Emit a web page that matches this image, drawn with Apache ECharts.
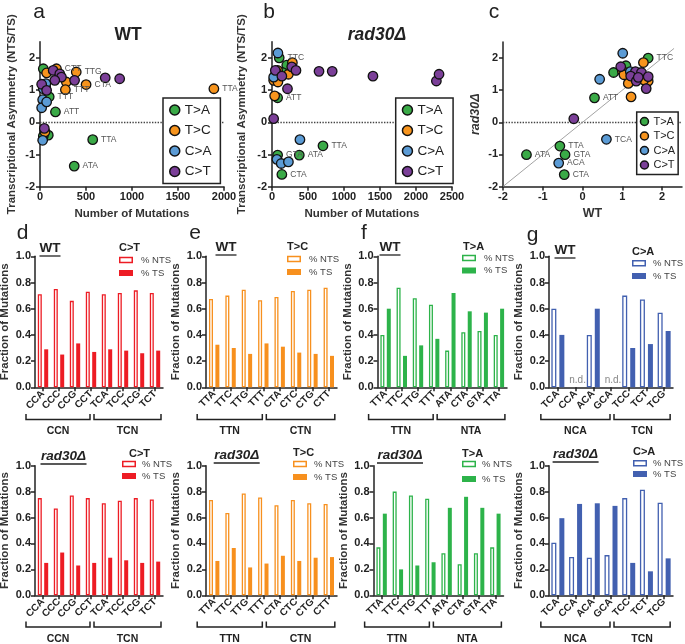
<!DOCTYPE html>
<html><head><meta charset="utf-8">
<script src="https://cdn.jsdelivr.net/npm/echarts@6/dist/echarts.min.js"></script>
<style>html,body{margin:0;padding:0;background:#fff}#c{width:685px;height:644px}</style>
</head><body><div id="c"></div><script>
// ---------- DATA ----------
// scatter: [x, y, optional label]
const asymTicks = [-2, -1, 0, 1, 2];
const mutTicksA = [0, 500, 1000, 1500, 2000];
const mutTicksB = [0, 500, 1000, 1500, 2000, 2500];
const typeNames = ['T>A', 'T>C', 'C>A', 'C>T'];

// panel a: WT, x = number of mutations, y = log2(NTS/TS)
const wtTA = [[36,1.66],[61,1.1],[100,0.79,'TTT'],[168,0.32,'ATT'],[90,-0.40],[36,-0.43],[573,-0.54,'TTA'],[372,-1.36,'ATA']];
const wtTC = [[72,1.53],[179,1.66,'CTT'],[394,1.56,'TTG'],[501,1.17,'CTA'],[286,1.25],[276,1.01,'TTT'],[1890,1.04,'TTA'],[54,-0.30]];
const wtCA = [[64,1.2],[36,1.04],[29,0.70],[18,0.45],[72,0.63],[29,-0.56]];
const wtCT = [[143,1.61],[215,1.5],[233,1.4],[709,1.38],[866,1.35],[376,1.3],[161,1.3],[18,1.18],[72,0.99],[47,-0.19]];

// panel b: rad30Δ
const r30TA = [[100,2.0,'TTC'],[205,1.77],[151,1.54],[78,0.76,'ATT'],[708,-0.73,'TTA'],[78,-1.02,'GTA'],[379,-1.02,'ATA'],[137,-1.62,'CTA']];
const r30TC = [[78,1.61],[283,1.85],[228,1.49],[46,1.46],[23,1.3],[82,1.25],[37,0.82],[60,1.55]];
const r30CA = [[82,2.15],[23,1.4],[388,-0.54],[68,-1.15],[128,-1.28],[228,-1.23]];
const r30CT = [[274,1.72],[333,1.61],[46,1.61],[137,1.43],[653,1.58],[836,1.58],[1402,1.43],[2283,1.28],[2320,1.49],[215,1.04],[23,0.11]];

// panel c: x = WT asymmetry, y = rad30Δ asymmetry
const cmpTA = [[1.65,2.0,'TTC'],[1.09,1.76],[0.78,1.55],[0.3,0.76,'ATT'],[-0.57,-0.74,'TTA'],[-1.41,-1.01,'ATA'],[-0.44,-1.01,'GTA'],[-0.46,-1.63,'CTA']];
const cmpTC = [[1.53,1.86],[1.0,1.6],[1.04,1.48],[1.65,1.28],[1.54,1.32],[1.15,1.21],[1.22,0.79]];
const cmpCA = [[1.01,2.15],[1.2,1.58],[0.43,1.34],[0.6,-0.53,'TCA'],[-0.6,-1.27,'ACA']];
const cmpCT = [[0.96,1.73],[1.33,1.58],[1.48,1.55],[1.21,1.44],[1.65,1.42],[1.35,1.28],[1.6,1.05],[1.4,1.4],[-0.22,0.11]];

// bar panels
const catsCT = ['CCA','CCC','CCG','CCT','TCA','TCC','TCG','TCT'];
const catsTC = ['TTA','TTC','TTG','TTT','CTA','CTC','CTG','CTT'];
const catsTA = ['TTA','TTC','TTG','TTT','ATA','CTA','GTA','TTA'];
const catsCA = ['TCA','CCA','ACA','GCA','TCC','TCT','TCG'];
const groupsCT = ['CCN','TCN'];
const groupsTC = ['TTN','CTN'];
const groupsTA = ['TTN','NTA'];
const groupsCA = ['NCA','TCN'];

const wtCT_NTS = [0.71,0.75,0.66,0.73,0.71,0.72,0.74,0.72];
const wtCT_TS  = [0.29,0.25,0.335,0.27,0.29,0.28,0.26,0.28];
const wtTC_NTS = [0.675,0.70,0.745,0.665,0.69,0.735,0.745,0.76];
const wtTC_TS  = [0.325,0.30,0.255,0.335,0.31,0.265,0.255,0.24];
const wtTA_NTS = [0.40,0.76,0.68,0.63,0.28,0.42,0.43,0.40];
const wtTA_TS  = [0.60,0.24,0.32,0.37,0.72,0.58,0.57,0.60];
const wtCA_NTS = [0.60,null,0.40,null,0.70,0.67,0.57];
const wtCA_TS  = [0.40,null,0.60,null,0.30,0.33,0.43];

const r30CT_NTS = [0.75,0.67,0.77,0.75,0.71,0.73,0.75,0.74];
const r30CT_TS  = [0.25,0.33,0.23,0.25,0.29,0.27,0.25,0.26];
const r30TC_NTS = [0.735,0.635,0.785,0.755,0.695,0.735,0.71,0.705];
const r30TC_TS  = [0.265,0.365,0.215,0.245,0.305,0.265,0.29,0.295];
const r30TA_NTS = [0.37,0.80,0.77,0.745,0.325,0.24,0.325,0.37];
const r30TA_TS  = [0.63,0.20,0.23,0.255,0.675,0.76,0.675,0.63];
const r30CA_NTS = [0.405,0.295,0.29,0.31,0.75,0.815,0.715];
const r30CA_TS  = [0.595,0.705,0.71,0.69,0.25,0.185,0.285];

// ---------- STYLE / LAYOUT ----------
const FF = '"Liberation Sans", Arial, Helvetica, sans-serif';
const font = (s, w='normal', st='normal') => `${st} ${w} ${s}px ${FF}`;
const INK = '#222';
const typeColors = ['#3aaa47','#f7941d','#5b9bd5','#7b3f98'];

const scatterLayout = [
  {left:40, top:41.7, width:184, height:145, xmin:0, xmax:2000, xTicks:mutTicksA, xName:'Number of Mutations', yName:'Transcriptional Asymmetry (NTS/TS)', yItalic:false, yGap:22, leg:{left:163, top:98, big:true}, sets:[wtTA,wtTC,wtCA,wtCT]},
  {left:272, top:41.7, width:180, height:145, xmin:0, xmax:2500, xTicks:mutTicksB, xName:'Number of Mutations', yName:'Transcriptional Asymmetry (NTS/TS)', yItalic:false, yGap:24, leg:{left:395.7, top:98, big:true}, sets:[r30TA,r30TC,r30CA,r30CT]},
  {left:503, top:42, width:179, height:144.5, xmin:-2, xmax:2.5, xTicks:asymTicks, xName:'WT', yName:'rad30Δ', yItalic:true, yGap:21, leg:{left:636.7, top:112, big:false}, diag:true, sets:[cmpTA,cmpTC,cmpCA,cmpCT]}
];

const barPanels = [
  {cats:catsCT, groups:groupsCT, nts:wtCT_NTS, ts:wtCT_TS, color:'#ED1C24', head:'C>T', title:'WT'},
  {cats:catsTC, groups:groupsTC, nts:wtTC_NTS, ts:wtTC_TS, color:'#F7901E', head:'T>C', title:'WT'},
  {cats:catsTA, groups:groupsTA, nts:wtTA_NTS, ts:wtTA_TS, color:'#2DB34A', head:'T>A', title:'WT'},
  {cats:catsCA, groups:groupsCA, nts:wtCA_NTS, ts:wtCA_TS, color:'#4260B0', head:'C>A', title:'WT'},
  {cats:catsCT, groups:groupsCT, nts:r30CT_NTS, ts:r30CT_TS, color:'#ED1C24', head:'C>T', title:'rad30Δ'},
  {cats:catsTC, groups:groupsTC, nts:r30TC_NTS, ts:r30TC_TS, color:'#F7901E', head:'T>C', title:'rad30Δ'},
  {cats:catsTA, groups:groupsTA, nts:r30TA_NTS, ts:r30TA_TS, color:'#2DB34A', head:'T>A', title:'rad30Δ'},
  {cats:catsCA, groups:groupsCA, nts:r30CA_NTS, ts:r30CA_TS, color:'#4260B0', head:'C>A', title:'rad30Δ'}
];
const barLayout = [
  {left:35, width:128, top:256.3, height:131, bw:4, tx:50, ty:248, leg:{hx:119,hy:248,rx:119,r1:260,r2:273,tx:141}, br:{line:419.5, tick:414, text:431}},
  {left:206, width:131, top:256.3, height:131, bw:4, tx:226, ty:247, leg:{hx:287,hy:247,rx:287,r1:259,r2:272,tx:309}, br:{line:419.5, tick:414, text:431}},
  {left:377.5, width:129.5, top:256.3, height:131, bw:4, tx:390, ty:247, leg:{hx:463,hy:247,rx:462,r1:258,r2:270.5,tx:484}, br:{line:419.5, tick:414, text:431}},
  {left:549, width:124, top:256.3, height:131, bw:5, tx:565, ty:250, leg:{hx:632,hy:251.5,rx:632,r1:263.3,r2:276,tx:653}, br:{line:419.5, tick:414, text:431}},
  {left:35, width:128, top:465.7, height:129.6, bw:4, tx:63.5, ty:456, leg:{hx:129,hy:454,rx:122,r1:464,r2:476,tx:142}, br:{line:627, tick:621.5, text:639.5}},
  {left:206, width:131, top:465.7, height:129.6, bw:4, tx:236.7, ty:455, leg:{hx:293,hy:453.3,rx:293,r1:464,r2:477,tx:314}, br:{line:627, tick:621.5, text:639.5}},
  {left:373.5, width:130, top:465.7, height:129.6, bw:4, tx:400, ty:455, leg:{hx:462,hy:454,rx:462,r1:464,r2:479,tx:482}, br:{line:627, tick:621.5, text:639.5}},
  {left:549, width:124, top:465.7, height:129.6, bw:5, tx:575.6, ty:454, leg:{hx:633,hy:451.7,rx:633,r1:463.3,r2:474,tx:653}, br:{line:627, tick:621.5, text:639.5}}
];

// ---------- BUILD ----------
const grids = [], xAxes = [], yAxes = [], series = [], legends = [], graphics = [];
const axisLineStyle = {color: INK, width: 1.5};

function text(x, y, t, f, extra) {
  graphics.push({type:'text', x, y, silent:true, z:100,
    style:Object.assign({text:t, font:f, fill:INK, align:'center', verticalAlign:'middle'}, extra || {})});
}
function line(x1, y1, x2, y2, w) {
  graphics.push({type:'line', silent:true, z:100, shape:{x1,y1,x2,y2}, style:{stroke:INK, lineWidth:w || 1.5}});
}

scatterLayout.forEach((L, p) => {
  grids.push({left:L.left, top:L.top, width:L.width, height:L.height, outerBoundsMode:'none', containLabel:false});
  xAxes.push({gridIndex:p, type:'value', min:L.xmin, max:L.xmax,
    axisLine:{show:true, onZero:false, lineStyle:axisLineStyle},
    axisTick:{show:true, length:4, customValues:L.xTicks, lineStyle:axisLineStyle},
    axisLabel:{customValues:L.xTicks, fontSize:11, fontWeight:'bold', color:INK, margin:5, fontFamily:FF, formatter:v => String(v)},
    splitLine:{show:false},
    name:L.xName, nameLocation:'middle', nameGap:21,
    nameTextStyle:{fontSize: L.diag ? 12.5 : 11.5, fontWeight:'bold', color:'#333', fontFamily:FF}});
  yAxes.push({gridIndex:p, type:'value', min:-2, max:2.5,
    axisLine:{show:true, onZero:false, lineStyle:axisLineStyle},
    axisTick:{show:true, length:4, customValues:asymTicks, lineStyle:axisLineStyle},
    axisLabel:{customValues:asymTicks, fontSize:11, fontWeight:'bold', color:INK, margin:5, fontFamily:FF, formatter:v => (v === 2.5 ? '' : String(v))},
    splitLine:{show:false},
    name:L.yName, nameLocation:'middle', nameGap:L.yGap,
    nameTextStyle:{fontSize: L.yItalic ? 12.5 : 11.5, fontWeight:'bold', fontStyle: L.yItalic ? 'italic' : 'normal', color:'#333', fontFamily:FF}});

  L.sets.forEach((set, t) => {
    const data = set.map(d => d[2]
      ? {value:[d[0], d[1]], label:{show:true, formatter:d[2]}}
      : {value:[d[0], d[1]]});
    const s = {type:'scatter', name:typeNames[t], xAxisIndex:p, yAxisIndex:p, data,
      symbol:'circle', symbolSize:9.5, z:3, animation:false,
      itemStyle:{color:typeColors[t], borderColor:'#111', borderWidth:1.3, opacity:1},
      label:{show:false, position:'right', distance:3, color:'#555', fontSize:8.5, fontFamily:FF},
      emphasis:{disabled:true}};
    if (t === 0) {
      const ml = [{yAxis:0, lineStyle:{type:'dotted', color:'#444', width:1.4}}];
      if (L.diag) ml.push([{coord:[-2, -2], lineStyle:{type:'solid', color:'#999', width:0.9}}, {coord:[2.3, 2.3]}]);
      s.markLine = {silent:true, z:1, symbol:['none','none'], animation:false, label:{show:false}, data:ml};
    }
    series.push(s);
  });

  const big = L.leg.big;
  legends.push({left:L.leg.left, top:L.leg.top, orient:'vertical', data:typeNames, icon:'circle',
    itemWidth: big ? 10 : 8, itemHeight: big ? 10 : 8, itemGap: big ? 6.5 : 3.5, itemTextGap: big ? 8 : 11,
    padding: big ? [5, 9, 5, 6] : [4, 3, 4, 3], backgroundColor:'#fff', borderColor:INK, borderWidth:1.5,
    selectedMode:false, z:10,
    textStyle:{fontSize: big ? 13.5 : 11, color:INK, fontFamily:FF},
    itemStyle:{borderColor:'#111', borderWidth:1.5}});
});

// bar panels
barPanels.forEach((P, i) => {
  const L = barLayout[i];
  const k = 3 + i;
  grids.push({left:L.left, top:L.top, width:L.width, height:L.height, outerBoundsMode:'none', containLabel:false});
  xAxes.push({gridIndex:k, type:'category', data:P.cats,
    axisLine:{show:true, lineStyle:axisLineStyle},
    axisTick:{show:true, alignWithLabel:true, length:4, lineStyle:axisLineStyle},
    axisLabel:{interval:0, rotate:45, fontSize:10, fontWeight:'bold', color:INK, margin:5, fontFamily:FF},
    splitLine:{show:false}});
  yAxes.push({gridIndex:k, type:'value', min:0, max:1, interval:0.2,
    axisLine:{show:true, lineStyle:axisLineStyle},
    axisTick:{show:true, length:4, lineStyle:axisLineStyle},
    axisLabel:{fontSize:11, fontWeight:'bold', color:INK, margin:4, fontFamily:FF, formatter:v => v.toFixed(1)},
    splitLine:{show:false},
    name:'Fraction of Mutations', nameLocation:'middle', nameGap:24,
    nameTextStyle:{fontSize:11.5, fontWeight:'bold', color:'#333', fontFamily:FF}});
  const ntsData = P.nts.map(v => v == null
    ? {value:0, itemStyle:{borderWidth:0}, label:{show:true, position:'top', distance:2, formatter:'n.d.', color:'#888', fontSize:10, fontFamily:FF, offset:[6, 0]}}
    : v);
  series.push({type:'bar', name:'% NTS', xAxisIndex:k, yAxisIndex:k, data:ntsData, barWidth:L.bw, barGap:'60%',
    animation:false, silent:true, itemStyle:{color:'#fff', borderColor:P.color, borderWidth:1.3}});
  series.push({type:'bar', name:'% TS', xAxisIndex:k, yAxisIndex:k, data:P.ts, barWidth:L.bw, barGap:'60%',
    animation:false, silent:true, itemStyle:{color:P.color}});

  // title (underlined)
  const italic = P.title !== 'WT';
  text(L.tx, L.ty, P.title, font(13.5, 'bold', italic ? 'italic' : 'normal'));
  const tw = italic ? 46 : 21;
  line(L.tx - tw / 2, L.ty + 8, L.tx + tw / 2, L.ty + 8, 1.3);

  // legend (drawn)
  const g = L.leg;
  text(g.hx, g.hy, P.head, font(11, 'bold'), {align:'left'});
  graphics.push({type:'rect', silent:true, z:100, shape:{x:g.rx + 0.75, y:g.r1 - 2.5, width:12.5, height:5}, style:{fill:'#fff', stroke:P.color, lineWidth:1.5}});
  graphics.push({type:'rect', silent:true, z:100, shape:{x:g.rx, y:g.r2 - 3, width:14, height:6}, style:{fill:P.color}});
  text(g.tx, g.r1, '% NTS', font(9.5), {align:'left', fill:'#444'});
  text(g.tx, g.r2, '% TS', font(9.5), {align:'left', fill:'#444'});

  // group brackets
  const n = P.cats.length, split = 4, band = L.width / n;
  const c = j => L.left + (j + 0.5) * band;
  const spans = [[c(0) - 17, c(split - 1) - 1], [c(split - 1) + 3, c(n - 1) + 6]];
  spans.forEach((sp, gi) => {
    graphics.push({type:'polyline', silent:true, z:100,
      shape:{points:[[sp[0], L.br.tick], [sp[0], L.br.line], [sp[1], L.br.line], [sp[1], L.br.tick]]},
      style:{stroke:INK, lineWidth:1.5, fill:null}});
    text((sp[0] + sp[1]) / 2, L.br.text, P.groups[gi], font(10.5, 'bold'));
  });
});

// panel letters and scatter titles
[['a',39,12],['b',269,12],['c',494,12],['d',22.5,233],['e',195,233],['f',364,233],['g',532.5,235]]
  .forEach(([t, x, y]) => text(x, y, t, font(21)));
text(128, 35, 'WT', font(17.5, 'bold'));
text(377, 35, 'rad30Δ', font(17.5, 'bold', 'italic'));

const chart = echarts.init(document.getElementById('c'), null, {renderer:'canvas', width:685, height:644});
chart.setOption({
  animation:false,
  backgroundColor:'#fff',
  textStyle:{fontFamily:FF},
  grid:grids, xAxis:xAxes, yAxis:yAxes, series, legend:legends, graphic:graphics
});
</script></body></html>
